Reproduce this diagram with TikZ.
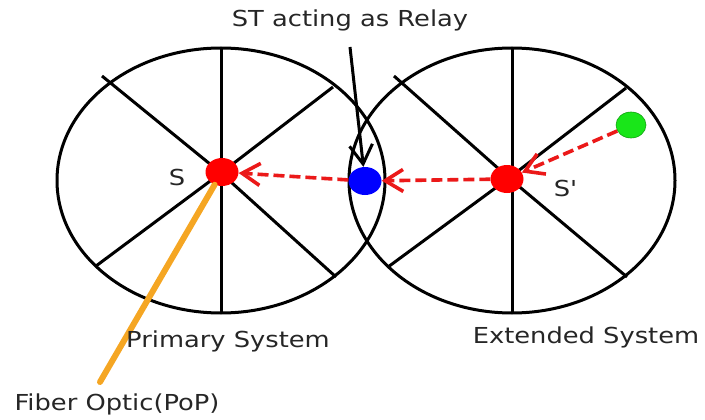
\documentclass[tikz,border=0pt]{standalone}
\usepackage{fontspec}
\usepackage{tikz}
\usetikzlibrary{arrows.meta,shapes.geometric}
\newfontfamily\rotulo[FakeStretch=1.17]{DejaVu Sans}
\definecolor{fibra}{RGB}{245,166,35}
\definecolor{enlace}{RGB}{235,25,25}
\definecolor{usuario}{RGB}{25,230,25}

\begin{document}
\begin{tikzpicture}[x=1pt, y=-1pt,
    celda/.style={draw=black, line width=3pt},
    radio/.style={draw=black, line width=3pt},
    punto/.style={ellipse, inner sep=0pt, minimum width=33pt, minimum height=28pt},
    salto/.style={-{Straight Barb[length=18pt, width=22pt]}, dash pattern=on 11pt off 5pt,
                  line width=3.6pt, color=enlace},
    bajada/.style={-{Straight Barb[length=19pt, width=23pt]}, line width=3pt, color=black},
    fibraline/.style={draw=fibra, line width=6pt, line cap=round},
    texto/.style={font=\rotulo\fontsize{22}{26}\selectfont, text=black!85, inner sep=0pt}]
  \useasboundingbox (0,0) rectangle (705,420);
  \draw[celda] (221,180.5) ellipse [x radius=164pt, y radius=132.5pt];
  \draw[celda] (512,180.5) ellipse [x radius=163pt, y radius=132.5pt];
  \coordinate (c1) at (221,173);
  \coordinate (c2) at (509,178);
  \draw[radio] (221,48) -- (221,313);
  \draw[radio] (c1) -- (102,76);
  \draw[radio] (c1) -- (336,277);
  \draw[radio] (c1) -- (333,87);
  \draw[radio] (c1) -- (96,266);
  \draw[radio] (512,48) -- (512,313);
  \draw[radio] (c2) -- (394,76);
  \draw[radio] (c2) -- (627,277);
  \draw[radio] (c2) -- (626,88);
  \draw[radio] (c2) -- (388,267);
  \node[punto, fill=red] (p1) at (222,172) {};
  \node[punto, fill=blue] (p2) at (365,181) {};
  \node[punto, fill=red] (p3) at (507,179) {};
  \node[punto, fill=usuario, draw=usuario!70!black, line width=0.6pt,
        minimum width=30pt, minimum height=26pt] (p4) at (631,125) {};
  \coordinate (pop) at (100,382);
  \coordinate (rele) at (350,47);
  \draw[fibraline] (p1) -- (pop);
  \draw[salto] (p2) -- (p1);
  \draw[salto] (p3) -- (p2);
  \draw[salto] (p4) -- (p3);
  \draw[bajada] (rele) -- (p2);
  \node[texto] (t1) at (350,20) {ST acting as Relay};
  \node[texto] (t2) at (177,177) {S};
  \node[texto] (t3) at (565,188) {S\textquotesingle};
  \node[texto] (t4) at (228,341) {Primary System};
  \node[texto] (t5) at (586,337) {Extended System};
  \node[texto] (t6) at (117,404) {Fiber Optic(PoP)};
\end{tikzpicture}
\end{document}
